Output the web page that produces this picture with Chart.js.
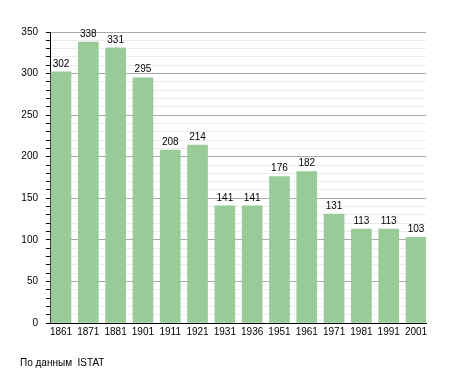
<!DOCTYPE html>
<html>
<head>
<meta charset="utf-8">
<title>Popolazione</title>
<script src="https://cdn.jsdelivr.net/npm/chart.js@4/dist/chart.umd.min.js"></script>
<style>
body { margin: 0; background: #fff; }
</style>
</head>
<body>
<canvas id="myChart" width="455" height="373"></canvas>
<script>
var anni = ["1861","1871","1881","1901","1911","1921","1931","1936","1951","1961","1971","1981","1991","2001"];
var abitanti = [302, 338, 331, 295, 208, 214, 141, 141, 176, 182, 131, 113, 113, 103];
var fonte = "По данным  ISTAT";

var puntos = [];
for (var i in abitanti)
{
    puntos.push({x: Number(i), y: abitanti[i]});
}

// numeri sopra le barre
var etiquetas = {
    id: 'etiquetas',
    afterDatasetsDraw: function(chart)
    {
        var ctx = chart.ctx;
        var meta = chart.getDatasetMeta(0);
        ctx.save();
        ctx.font = '10px "Liberation Sans", Arial, sans-serif';
        ctx.fillStyle = '#000';
        ctx.textAlign = 'center';
        ctx.textBaseline = 'bottom';
        meta.data.forEach(function(bar, j) {
            ctx.fillText(abitanti[j], bar.x, bar.y - 3);
        });
        ctx.restore();
    }
};

var pie = {
    id: 'pie',
    afterDraw: function(chart)
    {
        var ctx = chart.ctx;
        ctx.save();
        ctx.font = '10px "Liberation Sans", Arial, sans-serif';
        ctx.fillStyle = '#000';
        ctx.textAlign = 'left';
        ctx.textBaseline = 'alphabetic';
        ctx.fillText(fonte, 20, 366);
        ctx.restore();
    }
};

var ctx = document.getElementById("myChart");
var barGraph = new Chart(ctx, {
    type: 'bar',
    data: {
        datasets: [
            {
                label: 'Abitanti',
                backgroundColor: '#98cb97',
                borderWidth: 0,
                barThickness: 20,
                data: puntos
            }
        ]
    },
    plugins: [etiquetas, pie],
    options: {
        responsive: false,
        animation: false,
        devicePixelRatio: 1,
        layout: {
            padding: {left: 20, right: 29, top: 32, bottom: 30}
        },
        plugins: {
            legend: {display: false},
            tooltip: {enabled: false}
        },
        scales: {
            x: {
                type: 'linear',
                offset: false,
                min: -0.403,
                max: 13.366,
                afterFit: function(scale) { scale.height = 20; },
                grid: {display: false, drawTicks: false, offset: false},
                border: {display: true, color: '#000', width: 1},
                ticks: {
                    stepSize: 1,
                    includeBounds: false,
                    autoSkip: false,
                    maxRotation: 0,
                    padding: 3,
                    color: '#000',
                    font: {family: '"Liberation Sans", Arial, sans-serif', size: 10},
                    callback: function(value) {
                        return Number.isInteger(value) ? anni[value] : '';
                    }
                }
            },
            y: {
                min: 0,
                max: 350,
                afterFit: function(scale) { scale.width = 30; },
                grid: {
                    color: function(c) {
                        return c.tick.value % 50 === 0 ? '#a8a8a8' : '#ebebeb';
                    },
                    tickColor: '#000',
                    tickLength: 4
                },
                border: {display: true, color: '#000', width: 1},
                ticks: {
                    stepSize: 10,
                    autoSkip: false,
                    padding: 8,
                    color: '#000',
                    font: {family: '"Liberation Sans", Arial, sans-serif', size: 10},
                    callback: function(value) {
                        return value % 50 === 0 ? value : '';
                    }
                }
            }
        }
    }
});
</script>
</body>
</html>
